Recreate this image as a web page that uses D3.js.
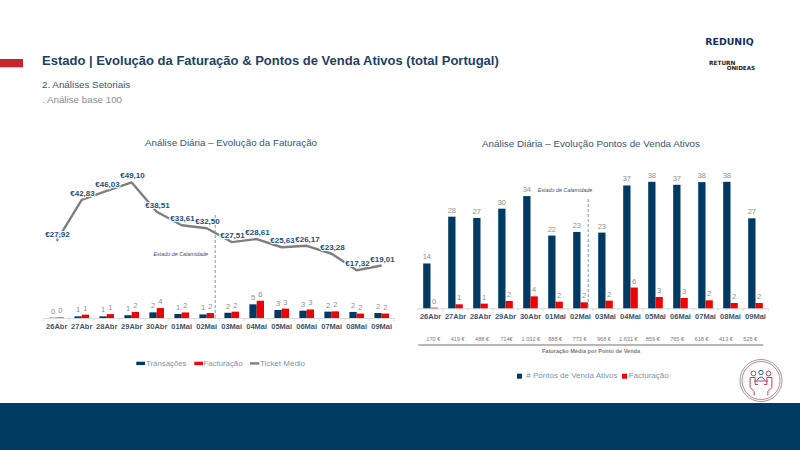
<!DOCTYPE html>
<html lang="pt">
<head>
<meta charset="utf-8">
<title>Estado | Evolução da Faturação & Pontos de Venda Ativos</title>
<script src="https://cdn.jsdelivr.net/npm/d3@7/dist/d3.min.js"></script>
<style>
  html, body { margin: 0; padding: 0; background: #fff; }
  svg { display: block; }
  text { font-family: "Liberation Sans", Arial, sans-serif; }
</style>
</head>
<body>
<svg id="page" width="800" height="450"></svg>
<script>
// Daily series, 26 April to 9 May
const dias = ["26Abr","27Abr","28Abr","29Abr","30Abr","01Mai","02Mai","03Mai","04Mai","05Mai","06Mai","07Mai","08Mai","09Mai"];
const transacoes = [0.1,0.6,0.6,1.0,2.05,1.45,1.3,1.9,4.96,2.9,2.65,2.3,2.2,1.8];
const facturacao = [0.2,1.2,1.4,2.2,3.6,2.0,1.8,2.3,6.25,3.4,3.1,2.4,1.6,1.6];
const ticketMedio = [27.92,42.83,46.03,49.10,38.51,33.61,32.50,27.51,28.61,25.63,26.17,23.28,17.32,19.01];
const pontosVenda = [13.5,27.6,27.2,30,33.8,21.9,23,22.8,37,38.1,37.2,38,38.1,27.1];
const faturacaoMedia = ["170 €","419 €","488 €","714€","1.032 €","888 €","773 €","968 €","1.631 €","859 €","765 €","618 €","413 €","525 €"];
const diaCalamidade = "02Mai";

const navy = "#003a63", red = "#f00000", grey = "#7f7f7f";
const inkTitle = "#1d3f66", inkLegend = "#8093ab", inkAxis = "#44546a", inkValue = "#8c8f93";

const svg = d3.select("#page");

// Slide furniture
svg.append("rect").attr("x", 0).attr("y", 59).attr("width", 23).attr("height", 8.3).attr("fill", "#c8252c");
svg.append("rect").attr("x", 0).attr("y", 403).attr("width", 800).attr("height", 47).attr("fill", "#003a62");

function label(x, y, str, size, fill, opts = {}) {
  return svg.append("text")
    .attr("x", x).attr("y", y)
    .attr("dominant-baseline", "central")
    .attr("text-anchor", opts.anchor || "start")
    .attr("font-size", size)
    .attr("font-weight", opts.weight || "normal")
    .attr("font-style", opts.style || "normal")
    .attr("letter-spacing", opts.spacing || null)
    .style("font-family", opts.family || null)
    .attr("fill", fill)
    .text(str);
}

label(42, 60, "Estado | Evolução da Faturação & Pontos de Venda Ativos (total Portugal)", 13, inkTitle, {weight: "bold"});
label(42, 84.5, "2. Análises Setoriais", 9.8, "#3a5474");
label(42, 99, ". Análise base 100", 9.8, "#8c8c8c");
label(231, 142, "Análise Diária – Evolução da Faturação", 9.8, "#3a5474", {anchor: "middle"});
label(591, 143.5, "Análise Diária – Evolução Pontos de Venda Ativos", 9.8, "#3a5474", {anchor: "middle"});

// Brand marks
label(729.5, 41, "REDUNIQ", 9.4, "#12305a", {anchor: "middle", weight: "bold", family: '"DejaVu Sans", sans-serif'});
label(709, 62.7, "RETURN", 5.8, "#222", {weight: "bold", family: '"DejaVu Sans", sans-serif'});
label(726.7, 67.7, "ONIDEAS", 5.6, "#222", {weight: "bold", family: '"DejaVu Sans", sans-serif'});

// Category scale shared in shape by both panels: 25px per day, bars touching in pairs
function dayBands(x0) {
  return d3.scaleBand().domain(dias).range([x0, x0 + 350]).paddingInner(0.416).paddingOuter(0.208);
}

function dayAxis(xBand, baseY, pad) {
  const g = svg.append("g").attr("transform", `translate(0,${baseY})`)
    .call(d3.axisBottom(xBand).tickSize(0).tickPadding(pad));
  g.select(".domain").attr("stroke", "#d9d9d9");
  g.selectAll("text")
    .attr("font-size", 7.5).attr("font-weight", "bold").attr("fill", inkAxis)
    .style("font-family", '"Liberation Sans", Arial, sans-serif');
  const step = xBand.step();
  g.selectAll("line.sep").data(dias.concat("fim")).join("line")
    .attr("class", "sep")
    .attr("x1", (d, i) => xBand.range()[0] + i * step)
    .attr("x2", (d, i) => xBand.range()[0] + i * step)
    .attr("y1", 0).attr("y2", 3).attr("stroke", "#d9d9d9");
}

function pairedBars(series, xBand, yScale, fill, offset, width) {
  svg.append("g").selectAll("rect").data(series).join("rect")
    .attr("x", (d, i) => xBand(dias[i]) + offset)
    .attr("width", width)
    .attr("y", d => yScale(d))
    .attr("height", d => yScale(0) - yScale(d))
    .attr("fill", fill);
  svg.append("g").selectAll("text").data(series).join("text")
    .attr("x", (d, i) => xBand(dias[i]) + offset + width / 2)
    .attr("y", d => yScale(d) - 6.5)
    .attr("dominant-baseline", "central")
    .attr("text-anchor", "middle")
    .attr("font-size", 7.5)
    .attr("fill", inkValue)
    .text(d => d3.format(".0f")(d));
}

function calamidade(x, y1, y2) {
  svg.append("line")
    .attr("x1", x).attr("x2", x).attr("y1", y1).attr("y2", y2)
    .attr("stroke", "#6f9cc0").attr("stroke-width", 1).attr("stroke-dasharray", "3 2");
}

// Left panel: transactions and revenue bars, average ticket line, all on one value scale
const xL = dayBands(44.2);
const yL = d3.scaleLinear().domain([0, 50]).range([318, 180]);
const bwL = xL.bandwidth() / 2;

dayAxis(xL, 318, 6);
pairedBars(transacoes, xL, yL, navy, 0, bwL);
pairedBars(facturacao, xL, yL, red, bwL, bwL);

const midL = d => xL(d) + xL.bandwidth() / 2;
const ticketLine = d3.line()
  .x((d, i) => midL(dias[i]))
  .y(d => yL(d));

svg.append("path").datum(ticketMedio)
  .attr("d", ticketLine)
  .attr("fill", "none").attr("stroke", grey).attr("stroke-width", 2.4).attr("stroke-linejoin", "round");

svg.append("g").selectAll("text").data(ticketMedio).join("text")
  .attr("x", (d, i) => midL(dias[i]) + 0.8)
  .attr("y", d => yL(d) - 6.5)
  .attr("dominant-baseline", "central")
  .attr("text-anchor", "middle")
  .attr("font-size", 8).attr("font-weight", "bold")
  .attr("fill", "#1d4f7c")
  .attr("stroke", "#fff").attr("stroke-width", 2).attr("paint-order", "stroke")
  .text(d => "€" + d3.format(".2f")(d).replace(".", ","));

calamidade(midL(diaCalamidade) + 8.5, 215, 318);
label(180.7, 253.7, "Estado de Calamidade", 5.4, "#3a5474", {anchor: "middle", style: "italic"});

// Left legend
svg.append("rect").attr("x", 136.3).attr("y", 361.7).attr("width", 8.7).attr("height", 3.4).attr("fill", navy);
label(146, 363.3, "Transações", 7.8, inkLegend);
svg.append("rect").attr("x", 194.3).attr("y", 361.7).attr("width", 8.7).attr("height", 3.4).attr("fill", red);
label(203.5, 363.3, "Facturação", 7.8, inkLegend);
svg.append("line").attr("x1", 250).attr("x2", 259.3).attr("y1", 363.4).attr("y2", 363.4).attr("stroke", grey).attr("stroke-width", 2.4);
label(260, 363.3, "Ticket Médio", 8, inkLegend);

// Right panel: active points of sale against revenue
const xR = dayBands(418);
const yR = d3.scaleLinear().domain([0, 40]).range([308.3, 175.5]);
const bwR = xR.bandwidth() / 2;

dayAxis(xR, 308.3, 5);
pairedBars(pontosVenda, xR, yR, navy, 0, bwR);
pairedBars(facturacao, xR, yR, red, bwR, bwR);

calamidade(xR(diaCalamidade) + xR.bandwidth() / 2 + 7.7, 199, 308.3);
label(565, 190.3, "Estado de Calamidade", 5.4, "#3a5474", {anchor: "middle", style: "italic"});

// Average revenue per point of sale, one figure per day under the axis
const xMedia = d3.scalePoint().domain(dias).range([433.3, 750.3]);
svg.append("g").selectAll("text").data(faturacaoMedia).join("text")
  .attr("x", (d, i) => xMedia(dias[i]))
  .attr("y", 338.7)
  .attr("dominant-baseline", "central").attr("text-anchor", "middle")
  .attr("font-size", 5.6).attr("fill", "#7a7a7a")
  .text(d => d);
svg.append("line").attr("x1", 418.3).attr("x2", 763.3).attr("y1", 345).attr("y2", 345)
  .attr("stroke", "#a0a0a0").attr("stroke-width", 1.4);
label(591, 350.7, "Faturação Média por Ponto de Venda", 5.6, "#7a7a7a", {anchor: "middle", weight: "bold"});

// Right legend
svg.append("rect").attr("x", 517).attr("y", 373.7).attr("width", 5).attr("height", 5).attr("fill", navy);
label(526.3, 375.8, "# Pontos de Venda Ativos", 8, inkLegend);
svg.append("rect").attr("x", 622).attr("y", 373.7).attr("width", 5).attr("height", 5).attr("fill", red);
label(628.7, 375.8, "Facturação", 8, inkLegend);

// Round emblem: people seated around a table
const emblem = svg.append("g").attr("transform", "translate(761,380.5)").attr("fill", "none");
emblem.append("circle").attr("r", 21).attr("stroke", "#9a9a9a").attr("stroke-width", 1);
emblem.append("circle").attr("r", 19).attr("stroke", "#b5455a").attr("stroke-width", 0.7);
const outline = "#b5455a";
[[-7.5, -7], [7.5, -7]].forEach(([cx, cy]) => {
  emblem.append("circle").attr("cx", cx).attr("cy", cy).attr("r", 2.4).attr("stroke", outline);
  emblem.append("path").attr("d", `M${cx * 1.45},${cy + 4} h${cx > 0 ? -5 : 5} v7 h${cx > 0 ? -3 : 3}`).attr("stroke", outline);
  emblem.append("path").attr("d", `M${cx * 1.45},${cy + 4} v10 l${cx > 0 ? -4 : 4},4 v4`).attr("stroke", outline);
});
emblem.append("circle").attr("cy", -8).attr("r", 2.2).attr("stroke", "#3f5f86");
emblem.append("path").attr("d", "M-4,0 q4,-7 8,0").attr("stroke", "#3f5f86");
emblem.append("path").attr("d", "M-7,0.5 h14").attr("stroke", outline);
</script>
</body>
</html>
